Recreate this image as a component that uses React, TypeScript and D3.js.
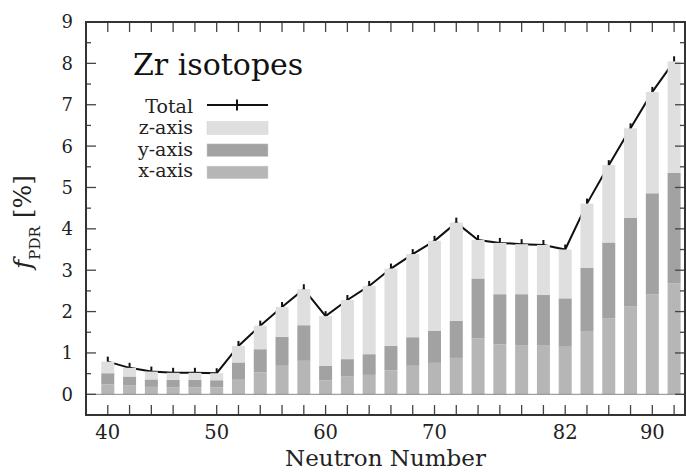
import React from "react";
import * as d3 from "d3";

// neutron numbers of the Zr isotopes
const neutrons = [40, 42, 44, 46, 48, 50, 52, 54, 56, 58, 60, 62, 64, 66, 68, 70, 72, 74, 76, 78, 80, 82, 84, 86, 88, 90, 92];

// PDR fraction [%] per direction
const xAxisPart = [0.24, 0.21, 0.18, 0.17, 0.17, 0.17, 0.37, 0.53, 0.69, 0.81, 0.34, 0.43, 0.47, 0.58, 0.69, 0.76, 0.88, 1.35, 1.21, 1.19, 1.19, 1.15, 1.53, 1.84, 2.13, 2.42, 2.68];
const yAxisPart = [0.27, 0.22, 0.18, 0.18, 0.18, 0.17, 0.4, 0.56, 0.7, 0.86, 0.35, 0.42, 0.5, 0.59, 0.69, 0.78, 0.9, 1.45, 1.21, 1.23, 1.21, 1.17, 1.53, 1.83, 2.14, 2.44, 2.67];
const zAxisPart = [0.28, 0.21, 0.19, 0.17, 0.17, 0.17, 0.4, 0.57, 0.72, 0.87, 1.2, 1.43, 1.65, 1.87, 2.01, 2.17, 2.37, 0.93, 1.24, 1.21, 1.21, 1.18, 1.55, 1.87, 2.16, 2.45, 2.7];

const xLabelTicks = [40, 50, 60, 70, 82, 90];
const yMajorTicks = [0, 1, 2, 3, 4, 5, 6, 7, 8, 9];
const yMinorTicks = [-0.5, 0.5, 1.5, 2.5, 3.5, 4.5, 5.5, 6.5, 7.5, 8.5];

const legendItems = [
  { label: "z-axis", color: "#dfdfdf" },
  { label: "y-axis", color: "#a2a2a2" },
  { label: "x-axis", color: "#b6b6b6" },
];

const W = 686;
const H = 472;
const left = 86;
const right = 685;
const top = 22;
const bottom = 415;
const font = "'DejaVu Serif', serif";

export default function App() {
  const x = d3.scaleLinear().domain([38, 93]).range([left, right]);
  const y = d3.scaleLinear().domain([-0.5, 9]).range([bottom, top]);
  const barW = 13;

  const rows = neutrons.map((n, i) => ({
    n,
    parts: [xAxisPart[i], yAxisPart[i], zAxisPart[i]],
  }));
  const totals = rows.map((r) => ({ n: r.n, v: d3.sum(r.parts) }));
  const colors = ["#b6b6b6", "#a2a2a2", "#dfdfdf"];

  const line = d3
    .line<{ n: number; v: number }>()
    .x((d) => x(d.n))
    .y((d) => y(d.v));

  return (
    <div style={{ position: "absolute", left: 0, top: 0 }}>
      <svg width={W} height={H} style={{ display: "block", fontFamily: font }}>
        <rect width={W} height={H} fill="#fff" />

        {/* total line with + markers, bars drawn over it */}
        <path d={line(totals) || ""} fill="none" stroke="#111" strokeWidth={2} />
        {totals.map((d) => (
          <line key={"m" + d.n} x1={x(d.n)} x2={x(d.n)} y1={y(d.v) - 5} y2={y(d.v) + 5} stroke="#111" strokeWidth={2} />
        ))}

        {rows.map((r) => {
          let acc = 0;
          return (
            <g key={"b" + r.n}>
              {r.parts.map((p, k) => {
                const y0 = acc;
                acc += p;
                return (
                  <rect
                    key={k}
                    x={x(r.n) - barW / 2}
                    y={y(acc)}
                    width={barW}
                    height={y(y0) - y(acc)}
                    fill={colors[k]}
                  />
                );
              })}
            </g>
          );
        })}

        <line x1={left} x2={right} y1={y(0)} y2={y(0)} stroke="#8a8a8a" strokeWidth={1} />

        {/* ticks */}
        {neutrons.map((n) => (
          <g key={"t" + n} stroke="#444" strokeWidth={1.3}>
            <line x1={x(n)} x2={x(n)} y1={bottom} y2={bottom - 10} />
            <line x1={x(n)} x2={x(n)} y1={top} y2={top + 10} />
          </g>
        ))}
        {yMajorTicks.map((v) => (
          <g key={"ym" + v} stroke="#444" strokeWidth={1.3}>
            <line x1={left} x2={left + 10} y1={y(v)} y2={y(v)} />
            <line x1={right} x2={right - 10} y1={y(v)} y2={y(v)} />
          </g>
        ))}
        {yMinorTicks.map((v) => (
          <g key={"yn" + v} stroke="#444" strokeWidth={1.3}>
            <line x1={left} x2={left + 5} y1={y(v)} y2={y(v)} />
            <line x1={right} x2={right - 5} y1={y(v)} y2={y(v)} />
          </g>
        ))}

        <rect x={left} y={top} width={right - left} height={bottom - top} fill="none" stroke="#333" strokeWidth={2} />

        {/* tick labels */}
        {yMajorTicks.map((v) => (
          <text key={"yl" + v} x={73} y={y(v)} dy="0.36em" textAnchor="end" fontSize={18} fill="#222">
            {v}
          </text>
        ))}
        {xLabelTicks.map((n) => (
          <text key={"xl" + n} x={x(n)} y={439} textAnchor="middle" fontSize={19.5} fill="#222">
            {n}
          </text>
        ))}

        <text x={(left + right) / 2} y={466} textAnchor="middle" fontSize={23} fill="#222">
          Neutron Number
        </text>
        <text transform="translate(31,222) rotate(-90)" textAnchor="middle" fontSize={25} fill="#222">
          <tspan fontStyle="italic">f</tspan>
          <tspan fontSize={15} dy={9}>PDR</tspan>
          <tspan dy={-9}> [%]</tspan>
        </text>

        <text x={133} y={75} fontSize={30} fill="#111">
          Zr isotopes
        </text>

        {/* legend */}
        <text x={193} y={113} textAnchor="end" fontSize={19} fill="#222">
          Total
        </text>
        <line x1={207} x2={268} y1={105} y2={105} stroke="#111" strokeWidth={2} />
        <line x1={237} x2={237} y1={99.5} y2={110.5} stroke="#111" strokeWidth={2} />
        {legendItems.map((it, i) => (
          <g key={it.label}>
            <text x={193} y={134 + i * 21.5} textAnchor="end" fontSize={19} fill="#222">
              {it.label}
            </text>
            <rect x={207} y={121.7 + i * 22.2} width={61} height={12.6} fill={it.color} stroke="#d0d0d0" strokeWidth={0.5} />
          </g>
        ))}
      </svg>
    </div>
  );
}
